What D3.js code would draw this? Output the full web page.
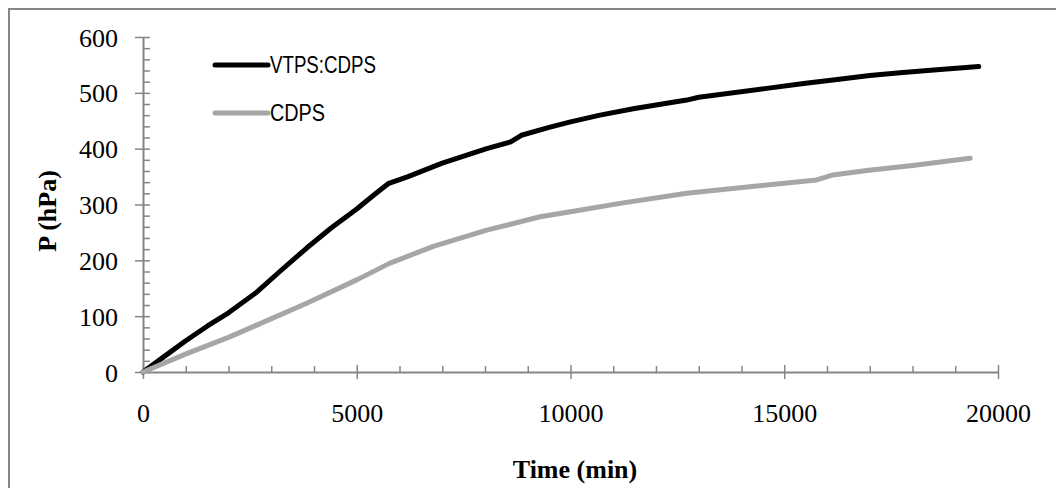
<!DOCTYPE html>
<html>
<head>
<meta charset="utf-8">
<script src="https://cdn.jsdelivr.net/npm/d3@7"></script>
<style>
  body { margin: 0; background: #fff; }
  svg { display: block; }
</style>
</head>
<body>
<div id="chart"></div>
<script>
// series (time in min, pressure in hPa)
var vtpsTime = [0, 500, 1000, 1500, 2000, 2660, 3200, 3829, 4400, 5000, 5400, 5750, 6200, 7000, 8040, 8600, 8850, 9500, 10000, 10690, 11500, 12718, 13000, 14590, 15500, 16140, 17000, 17708, 18500, 19550];
var vtpsVal  = [0, 28, 56, 82, 106, 143, 180, 222, 258, 292, 317, 338, 350, 374, 400, 412, 424, 438, 448, 460, 472, 487, 492, 508, 517, 523, 531, 536, 541, 547];
var cdpsTime = [0, 1022, 2000, 2660, 3829, 5000, 5778, 6791, 8040, 9287, 10000, 11158, 12718, 14590, 15760, 16140, 16930, 18000, 19350];
var cdpsVal  = [0, 33, 62, 84, 123, 165, 195, 225, 254, 278, 287, 302, 320, 335, 344, 353, 361, 370, 383];

var seriesNames = ["VTPS:CDPS", "CDPS"];
var xTicks = [0, 5000, 10000, 15000, 20000];
var yTicks = [0, 100, 200, 300, 400, 500, 600];

var W = 1056, H = 488;
var margin = { top: 37, left: 143, right: 58, bottom: 116 };
var axisColor = "#868686";
var serif = "'Liberation Serif', 'Times New Roman', serif";

var x = d3.scaleLinear().domain([0, 20000]).range([margin.left, W - margin.right]);
var y = d3.scaleLinear().domain([0, 600]).range([H - margin.bottom, margin.top]);

var svg = d3.select("#chart").append("svg")
  .attr("width", W)
  .attr("height", H);

svg.append("rect")
  .attr("width", W).attr("height", H)
  .attr("fill", "#fff");

// outer frame (only left and top visible in the picture)
svg.append("path")
  .attr("d", `M9,${H} V9 H${W}`)
  .attr("fill", "none")
  .attr("stroke", axisColor)
  .attr("stroke-width", 2);

// minor ticks (inside)
var xMinor = d3.range(0, 20001, 1000).filter(d => d % 5000 !== 0);
var yMinor = d3.range(0, 601, 20).filter(d => d % 100 !== 0);

svg.append("g")
  .attr("transform", `translate(0, ${y(0)})`)
  .call(d3.axisTop(x).tickValues(xMinor).tickSize(6).tickFormat(""))
  .call(g => g.select(".domain").remove())
  .call(g => g.selectAll("line").attr("stroke", axisColor).attr("stroke-width", 1.5));

svg.append("g")
  .attr("transform", `translate(${x(0)}, 0)`)
  .call(d3.axisRight(y).tickValues(yMinor).tickSize(7).tickFormat(""))
  .call(g => g.select(".domain").remove())
  .call(g => g.selectAll("line").attr("stroke", axisColor).attr("stroke-width", 1.5));

// major axes (cross ticks)
var xAxis = svg.append("g")
  .attr("transform", `translate(0, ${y(0)})`)
  .call(d3.axisBottom(x).tickValues(xTicks).tickSizeInner(7).tickSizeOuter(0).tickPadding(25).tickFormat(d3.format("d")));
xAxis.selectAll(".tick line").attr("y1", -7);

var yAxis = svg.append("g")
  .attr("transform", `translate(${x(0)}, 0)`)
  .call(d3.axisLeft(y).tickValues(yTicks).tickSizeInner(8).tickSizeOuter(0).tickPadding(17).tickFormat(d3.format("d")));
yAxis.selectAll(".tick line").attr("x1", 7);

[xAxis, yAxis].forEach(g => {
  g.select(".domain").attr("stroke", axisColor).attr("stroke-width", 2);
  g.selectAll(".tick line").attr("stroke", axisColor).attr("stroke-width", 1.5);
  g.selectAll(".tick text")
    .attr("fill", "#000")
    .style("font-family", serif)
    .style("font-size", "26px");
});
yAxis.selectAll(".tick text").attr("dy", "0.35em");

// axis titles
svg.append("text")
  .attr("x", 575).attr("y", 478)
  .attr("text-anchor", "middle")
  .style("font-family", serif)
  .style("font-size", "26px")
  .style("font-weight", "bold")
  .text("Time (min)");

svg.append("text")
  .attr("transform", "translate(56, 211) rotate(-90)")
  .attr("text-anchor", "middle")
  .style("font-family", serif)
  .style("font-size", "26px")
  .style("font-weight", "bold")
  .text("P (hPa)");

// lines
var line = d3.line()
  .x(d => x(d[0]))
  .y(d => y(d[1]));

var series = [
  { name: seriesNames[0], color: "#000000", pts: d3.zip(vtpsTime, vtpsVal) },
  { name: seriesNames[1], color: "#a6a6a6", pts: d3.zip(cdpsTime, cdpsVal) }
];

svg.selectAll(".series")
  .data(series)
  .enter()
  .append("path")
  .attr("class", "series")
  .attr("d", d => line(d.pts))
  .attr("fill", "none")
  .attr("stroke", d => d.color)
  .attr("stroke-width", 5)
  .attr("stroke-linecap", "round")
  .attr("stroke-linejoin", "round");

// legend
var legend = svg.selectAll(".legend")
  .data(series)
  .enter()
  .append("g")
  .attr("class", "legend")
  .attr("transform", (d, i) => `translate(215, ${65 + i * 48})`);

legend.append("line")
  .attr("x1", 0).attr("x2", 53)
  .attr("stroke", d => d.color)
  .attr("stroke-width", 5)
  .attr("stroke-linecap", "round");

legend.append("text")
  .attr("x", 55)
  .attr("dy", "0.35em")
  .attr("textLength", (d, i) => i === 0 ? 106 : 55)
  .attr("lengthAdjust", "spacingAndGlyphs")
  .style("font-family", "'Liberation Sans', Arial, sans-serif")
  .style("font-size", "24px")
  .text(d => d.name);
</script>
</body>
</html>
